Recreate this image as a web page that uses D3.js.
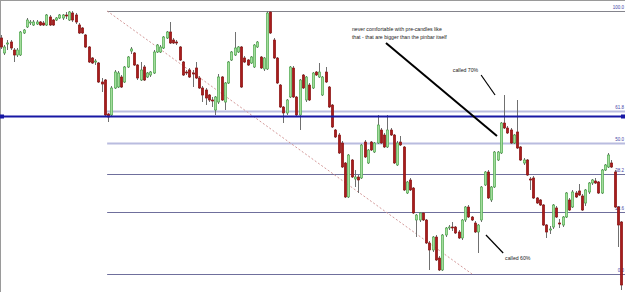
<!DOCTYPE html>
<html>
<head>
<meta charset="utf-8">
<script src="https://cdn.jsdelivr.net/npm/d3@7"></script>
<style>
  body { margin: 0; background: #fff; }
  svg { display: block; }
</style>
</head>
<body>
<div id="chart"></div>
<script>
// prices in pips above the swing low the fib was pulled to
var openP  = [236,221,230,232,224,219,219,241,247,251,249,250,252,251,249,257,254,254,256,256,259,254,261,259,249,246,239,227,216,212,
              211,192,194,160,159,186,187,197,192,207,223,221,209,194,207,197,199,201,222,222,226,236,242,234,232,227,212,202,204,201,
              206,196,186,184,179,174,164,172,197,172,191,214,219,222,227,216,214,211,207,227,217,205,205,262,234,216,189,167,161,177,
              206,177,159,199,174,189,186,202,197,179,202,187,169,144,139,131,111,77,114,95,97,96,132,111,132,122,131,144,139,127,
              144,139,109,132,127,81,94,86,54,54,61,54,31,24,37,16,4,39,46,47,47,42,36,54,67,57,51,42,54,89,
              102,74,87,114,121,151,146,144,131,142,127,111,114,95,96,76,74,69,49,44,47,66,51,49,57,74,67,81,83,78,
              71,82,91,93,92,81,104,107,111,102,67,52];
var highP  = [239,229,234,234,226,226,243,245,256,254,254,254,253,253,260,259,255,257,260,260,262,263,263,261,251,247,240,228,217,215,
              212,196,195,161,188,204,203,199,208,218,227,222,210,212,209,202,203,224,230,229,238,243,252,236,234,228,213,204,206,204,
              212,198,188,186,180,177,178,200,198,192,213,223,242,228,228,218,215,218,230,233,218,217,263,263,236,217,190,168,175,208,
              208,178,195,200,198,191,202,203,211,198,207,188,170,145,141,133,112,120,115,104,99,130,134,125,133,132,159,146,141,159,
              146,140,133,138,128,93,96,87,60,62,62,55,33,38,39,18,40,47,49,52,48,44,55,68,69,58,53,50,88,103,
              104,88,123,123,152,179,148,146,140,174,128,116,115,97,98,77,75,70,50,48,70,68,55,58,82,76,84,83,90,80,
              85,92,95,96,93,105,110,121,114,104,68,53];
var lowP   = [225,219,224,224,212,217,218,240,246,249,248,249,248,248,248,248,248,253,255,254,255,253,252,250,240,240,226,211,210,209,
              191,182,158,152,158,185,186,186,191,206,220,208,194,193,193,196,197,200,221,221,225,235,230,230,229,213,198,199,196,187,
              195,185,172,169,172,167,159,170,173,164,190,213,218,221,186,211,208,210,206,226,205,203,204,240,215,190,166,151,159,176,
              176,158,144,185,172,173,185,198,196,178,191,166,146,136,120,106,76,76,96,87,81,95,116,110,123,121,130,130,126,126,
              138,110,108,128,83,80,83,60,37,52,53,30,4,22,13,3,3,37,44,43,40,35,34,52,56,53,41,21,52,88,
              75,72,86,113,120,145,140,130,130,125,113,109,98,84,75,70,68,48,36,40,45,56,46,47,56,63,66,76,78,63,
              68,80,89,90,80,80,103,106,106,66,27,-16];
var closeP = [227,227,231,226,219,224,242,244,254,252,252,252,249,249,259,249,249,256,259,259,258,262,254,252,241,241,227,212,211,213,
              192,190,159,157,186,202,201,187,207,217,225,209,196,204,194,201,202,222,229,227,237,242,231,231,231,214,199,201,197,200,
              196,186,179,176,174,173,177,197,174,191,212,222,226,227,187,212,209,217,229,232,206,216,261,241,216,191,167,161,174,207,
              177,159,194,186,197,174,201,199,202,197,192,167,147,137,121,107,77,119,97,97,94,129,117,124,124,131,149,131,127,144,
              139,111,131,129,84,92,84,61,59,61,54,31,24,37,14,4,39,46,47,46,41,36,54,67,57,54,42,49,87,102,
              76,87,122,122,151,146,141,131,139,126,114,114,99,94,76,71,69,49,42,45,69,57,50,57,81,64,82,77,79,64,
              84,91,94,91,81,104,109,119,107,67,49,-11];

// fibonacci retracement pulled from the high down to the swing low
var swingLow = 0, swingHigh = 263, fibStart = 32.7;
var fibLevels = [0, 23.6, 38.2, 50, 61.8, 100];
var fibLabels = ['0.0', '23.6', '38.2', '50.0', '61.8', '100.0'];
var supportLevel = 158;

// hand drawn stuff (bar index, pips)
var trendLine = [[32.7, 263], [145.1, 0]];
var arrows = [
  [[118.6, 231], [152.8, 138], 2],
  [[147.9, 199], [152.2, 179], 1.2],
  [[149.4, 39], [154.7, 21], 1.2]
];
var notes = [
  ['never comfortable with pre-candles like', 108.1, 243],
  ['that - that are bigger than the pinbar itself', 108.1, 235.5],
  ['called 70%', 139.2, 202],
  ['called 60%', 155.3, 14.5]
];

var width = 625, height = 292;
var n = openP.length;

var svg = d3.select('#chart')
  .append('svg')
  .attr('width', width)
  .attr('height', height);

var x = d3.scaleLinear().domain([0, n - 1]).range([1, 621]);
var y = d3.scaleLinear().domain([swingLow, swingHigh]).range([274, 11]);

// frame
svg.append('line').attr('x1', 0.5).attr('x2', 0.5).attr('y1', 0).attr('y2', height)
  .attr('stroke', '#9a9a9a').attr('stroke-width', 1);
svg.append('line').attr('x1', 0).attr('x2', width).attr('y1', 0.5).attr('y2', 0.5)
  .attr('stroke', '#9a9a9a').attr('stroke-width', 1);

// fib levels
function fibPrice(r) { return swingLow + (swingHigh - swingLow) * r / 100; }
function fibColor(r) {
  if (r == 100) return '#84848c';
  if (r == 50 || r == 61.8) return '#b9bcdf';
  return '#6f6f9c';
}
svg.append('g')
  .selectAll('line')
  .data(fibLevels)
  .enter()
  .append('line')
  .attr('x1', x(fibStart))
  .attr('x2', width)
  .attr('y1', (d) => Math.round(y(fibPrice(d))) + 0.5)
  .attr('y2', (d) => Math.round(y(fibPrice(d))) + 0.5)
  .attr('stroke', fibColor)
  .attr('stroke-width', (d) => (d == 50 || d == 61.8) ? 2 : 1);

svg.append('g')
  .selectAll('text')
  .data(fibLevels)
  .enter()
  .append('text')
  .attr('x', 624)
  .attr('y', (d) => y(fibPrice(d)) - 2)
  .attr('text-anchor', 'end')
  .attr('font-family', 'Liberation Sans, Arial, sans-serif')
  .attr('font-size', 4.5)
  .attr('fill', '#4646a6')
  .text((d, i) => fibLabels[i]);

// trend line (dotted)
svg.append('line')
  .attr('x1', x(trendLine[0][0])).attr('y1', y(trendLine[0][1]))
  .attr('x2', x(trendLine[1][0])).attr('y2', y(trendLine[1][1]))
  .attr('stroke', '#d49a9a')
  .attr('stroke-width', 1)
  .attr('stroke-dasharray', '2,2');

// candles
var idx = d3.range(n);
var candles = svg.append('g');
candles.selectAll('line')
  .data(idx)
  .enter()
  .append('line')
  .attr('x1', (i) => Math.round(x(i)) + 0.5)
  .attr('x2', (i) => Math.round(x(i)) + 0.5)
  .attr('y1', (i) => y(highP[i]))
  .attr('y2', (i) => y(lowP[i]))
  .attr('stroke', '#707070')
  .attr('stroke-width', 1);

candles.selectAll('rect')
  .data(idx)
  .enter()
  .append('rect')
  .attr('x', (i) => Math.round(x(i)) - 0.7)
  .attr('width', 2.4)
  .attr('y', (i) => y(Math.max(openP[i], closeP[i])))
  .attr('height', (i) => Math.max(1, Math.abs(y(openP[i]) - y(closeP[i]))))
  .attr('fill', (i) => closeP[i] >= openP[i] ? '#a3dd9c' : '#a81c1c')
  .attr('stroke', (i) => closeP[i] >= openP[i] ? '#44a044' : '#861212')
  .attr('stroke-width', 0.6);

// drawn support line
var yS = Math.round(y(supportLevel)) + 0.5;
svg.append('line')
  .attr('x1', 2).attr('x2', width - 2)
  .attr('y1', yS).attr('y2', yS)
  .attr('stroke', '#1818a4')
  .attr('stroke-width', 2);
svg.selectAll('rect.handle')
  .data([2, width - 2])
  .enter()
  .append('rect')
  .attr('class', 'handle')
  .attr('x', (d) => d - 2)
  .attr('y', yS - 2)
  .attr('width', 4)
  .attr('height', 4)
  .attr('fill', '#1818a4');

// annotations
svg.append('g')
  .selectAll('line')
  .data(arrows)
  .enter()
  .append('line')
  .attr('x1', (d) => x(d[0][0])).attr('y1', (d) => y(d[0][1]))
  .attr('x2', (d) => x(d[1][0])).attr('y2', (d) => y(d[1][1]))
  .attr('stroke', '#000')
  .attr('stroke-width', (d) => d[2]);

svg.append('g')
  .selectAll('text')
  .data(notes)
  .enter()
  .append('text')
  .attr('x', (d) => x(d[1]))
  .attr('y', (d) => y(d[2]))
  .attr('font-family', 'Liberation Sans, Arial, sans-serif')
  .attr('font-size', 5.2)
  .attr('fill', '#222')
  .text((d) => d[0]);
</script>
</body>
</html>
